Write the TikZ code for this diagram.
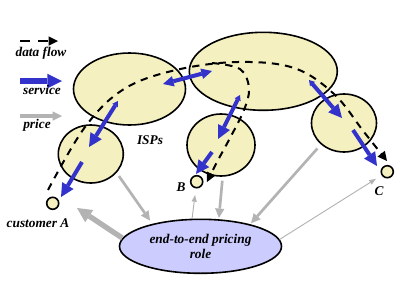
\documentclass[tikz,border=0pt]{standalone}
\usepackage{fontspec}
\setmainfont{Liberation Serif}
\usetikzlibrary{arrows.meta,shapes.geometric}
\definecolor{ispfill}{HTML}{F4F0C0}
\definecolor{service}{HTML}{3333CC}
\definecolor{pricegray}{HTML}{B3B3B3}
\definecolor{rolefill}{HTML}{CCCCFF}

\begin{document}
\begin{tikzpicture}[x=0.75pt,y=-0.75pt,
  isp/.style={ellipse,draw=black,line width=1.2pt,fill=ispfill,inner sep=0pt},
  cust/.style={circle,draw=black,line width=1.2pt,fill=ispfill,minimum size=9pt,inner sep=0pt},
  lbl/.style={font=\bfseries\itshape},
  flow/.style={line width=1.5pt,dash pattern=on 5.5pt off 4.5pt,
    -{Triangle[length=7pt,width=7pt,line width=0pt]}},
  serv/.style={draw=service,line width=3pt,
    -{Triangle[length=10pt,width=10pt,line width=0pt]}},
  servb/.style={serv,{Triangle[length=4pt,width=5pt,line width=0pt]}-{Triangle[length=10pt,width=10pt,line width=0pt]}},
  servd/.style={serv,{Triangle[length=8pt,width=8pt,line width=0pt]}-{Triangle[length=8pt,width=8pt,line width=0pt]}},
  price/.style={draw=pricegray,line width=2pt,
    -{Triangle[length=7pt,width=7pt,line width=0pt]}},
  pricebig/.style={draw=pricegray,line width=4pt,
    -{Triangle[length=11pt,width=11pt,line width=0pt]}},
  pricethin/.style={draw=pricegray,line width=0.7pt,
    -{Triangle[length=5pt,width=4pt,line width=0pt]}}]
\useasboundingbox (0,0) rectangle (400,300);

% ISP clouds
\node[isp,minimum width=84pt,minimum height=54pt] (isp1) at (129.5,89) {};
\node[isp,minimum width=48.75pt,minimum height=43.5pt] (isp3) at (90.8,154) {};
\node[isp,minimum width=111pt,minimum height=58.5pt] (isp2) at (263.3,71.3) {};
\node[isp,minimum width=51pt,minimum height=46.5pt] (isp4) at (221,145) {};
\node[isp,minimum width=48.75pt,minimum height=43.5pt] (isp5) at (344,123) {};
\node[lbl] (ispl) at (150,140) {ISPs};

% customers
\node[cust] (custA) at (52.7,203.3) {};
\node[cust] (custB) at (196.7,181.7) {};
\node[cust] (custC) at (387.3,171.7) {};
\node[lbl] (labA) at (38,223) {customer A};
\node[lbl] (labB) at (181,187) {B};
\node[lbl] (labC) at (379,191) {C};

% pricing role
\node[ellipse,draw=black,line width=1.2pt,fill=rolefill,inner sep=0pt,
  minimum width=121.5pt,minimum height=40.5pt,align=center,lbl] (role) at (200.5,246.3)
  {end-to-end pricing\\[-1pt]role};

% legend
\coordinate (lf1) at (20,41); \coordinate (lf2) at (58,41);
\coordinate (ls1) at (20,81); \coordinate (ls2) at (62,81);
\coordinate (lp1) at (20,116); \coordinate (lp2) at (62,116);
\draw[flow,dash pattern=on 7.5pt off 6pt] (lf1) -- (lf2);
\draw[serv,line width=4.5pt,-{Triangle[length=11pt,width=11pt,line width=0pt]}] (ls1) -- (ls2);
\draw[price,line width=2.5pt] (lp1) -- (lp2);
\node[lbl] (lft) at (41,53) {data flow};
\node[lbl] (lst) at (42,90) {service};
\node[lbl] (lpt) at (37,125) {price};

% data flow
\coordinate (fA) at (48,190);
\coordinate (fC) at (387,161);
\coordinate (fB) at (207,182);
\draw[flow] plot[smooth,tension=0.6] coordinates
  {(fA) (85,127) (124,89) (176,70) (238,62) (294,68) (334,94) (364,132) (fC)};
\draw[flow] plot[smooth,tension=0.6] coordinates
  {(212,63) (240,69) (249,88) (244,110) (230,138) (217,162) (fB)};

% service
\coordinate (s1a) at (163,84);  \coordinate (s1b) at (212,71);
\coordinate (s2a) at (118,101); \coordinate (s2b) at (89,147);
\coordinate (s3a) at (82,162);  \coordinate (s3b) at (61,197);
\coordinate (s4a) at (240,95);  \coordinate (s4b) at (218,139);
\coordinate (s5a) at (212,152); \coordinate (s5b) at (196,174);
\coordinate (s6a) at (309,80);  \coordinate (s6b) at (342,118);
\coordinate (s7a) at (353,130); \coordinate (s7b) at (377,166);
\draw[servd] (s1a) -- (s1b);
\draw[servb] (s2a) -- (s2b);
\draw[serv] (s3a) -- (s3b);
\draw[servb] (s4a) -- (s4b);
\draw[serv] (s5a) -- (s5b);
\draw[servb] (s6a) -- (s6b);
\draw[serv] (s7a) -- (s7b);

% price
\coordinate (pA) at (77,208);
\draw[price,shorten <=3pt,shorten >=3pt] (isp3.-36) -- (role.155);
\draw[price,shorten <=3pt,shorten >=1pt] (isp4.-87) -- (role.56);
\draw[price,shorten <=4pt,shorten >=1pt] (isp5.223) -- (role.24);
\draw[pricebig] (role.174) -- (pA);
\draw[pricethin,shorten >=5pt] (role.107) -- (custB);
\draw[pricethin,shorten >=5pt] (role.5) -- (custC);
\end{tikzpicture}
\end{document}
